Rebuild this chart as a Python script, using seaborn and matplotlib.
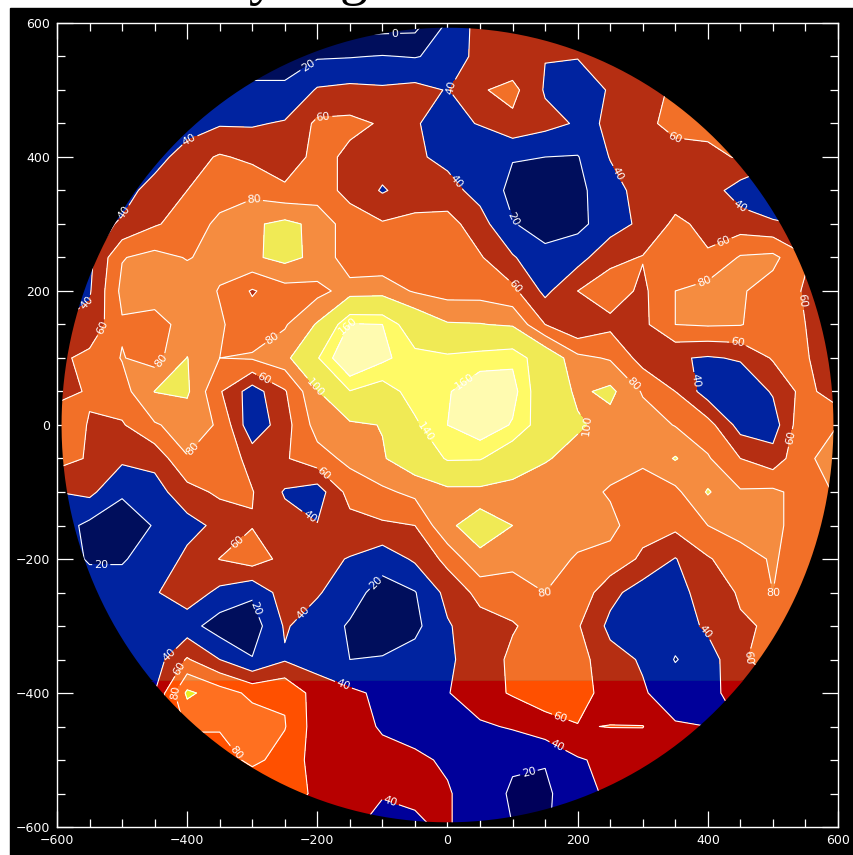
import numpy as np
import seaborn as sns
import matplotlib.pyplot as plt
from matplotlib.path import Path
from matplotlib.patches import PathPatch, Rectangle
from matplotlib.ticker import MultipleLocator

# Data: one row per y, columns follow grid_x
grid_x = list(range(-600, 601, 50))
grid_y = list(range(600, -601, -50))

row_p600 = [10, 10, 10, 10, 10, 10, 10, 10, 10, -10, -10, -8, 22, 48, 50, 50, 50, 50, 50, 50, 50, 50, 50, 50, 50]
row_p550 = [15, 15, 15, 15, 15, 15, 15, 15, 18, 19, 21, 19, 25, 48, 45, 40.5, 41, 46, 50, 50, 50, 50, 50, 50, 50]
row_p500 = [25, 25, 25, 25, 25, 25, 22, 22, 42, 45, 43, 46, 39, 58, 66, 38, 28, 42, 55, 62, 62, 50, 50, 50, 50]
row_p450 = [28, 28, 28, 28, 28, 38, 38, 42, 64, 65, 58, 41, 35, 41, 55, 46, 38, 41, 55, 66, 66, 60, 60, 60, 60]
row_p400 = [30, 30, 30, 30, 52, 62, 56, 45, 68, 55, 50, 43, 35, 25, 21, 20, 19, 41, 58, 52, 55, 62, 50, 50, 50]
row_p350 = [30, 30, 30, 50, 60, 70, 74, 65, 68, 55, 38, 50, 47, 33, 15, 12, 15, 32, 48, 50, 50, 30, 15, 15, 15]
row_p300 = [30, 30, 43, 58, 68, 85, 97, 105, 95, 68, 62, 65, 68, 48, 21, 13, 15, 30, 45, 64, 55, 50, 44, 38, 38]
row_p250 = [30, 35, 79, 86, 79, 85, 97, 106, 95, 68, 68, 68, 72, 62, 42, 25, 32, 55, 61, 62, 62, 82, 85, 62, 60]
row_p200 = [30, 38, 85, 90, 90, 79, 58, 72, 74, 88, 90, 78, 72, 72, 65, 35, 60, 70, 56, 80, 88, 82, 72, 58, 50]
row_p150 = [40, 45, 78, 72, 88, 82, 70, 78, 102, 162, 160, 120, 102, 101, 97, 60, 42, 55, 55, 80, 82, 81, 70, 60, 45]
row_p100 = [55, 66, 81, 72, 100.5, 80, 82, 92, 138, 185, 165, 148, 145, 150, 156, 120, 85, 78, 52, 42, 38, 42, 62, 62, 45]
row_p050 = [50, 63, 72, 100.5, 103, 62, 30, 58, 98, 139, 128, 150, 158, 175, 168, 118, 96, 105, 78, 60, 30, 25, 42, 68, 45]
row_000 = [80, 58, 58, 78, 88, 78, 25, 52, 88, 95, 101, 136, 160, 175, 158, 125, 103, 92, 90, 79, 68, 32, 30, 78, 80]
row_m050 = [68, 58, 44, 46, 79, 76, 52, 58, 72, 85, 98, 115, 143, 142, 120, 102, 92, 88, 85, 101.5, 82, 60, 48, 78, 85]
row_m100 = [40, 45, 22, 32, 52, 64, 61, 38, 30, 68, 76, 85, 92, 92, 88, 87, 87, 78, 68, 75, 102, 82, 84, 72, 82]
row_m150 = [30, 15, 12, 21, 33, 45, 59, 48, 41, 52, 57, 60, 97, 108, 100, 87, 84, 85, 68, 65, 80, 88, 84, 72, 60]
row_m200 = [25, 19, 19, 25, 45, 60.5, 70, 54, 45, 39, 28, 43, 66, 96, 85, 84, 79, 74, 56, 39, 58, 72, 82, 70, 60]
row_m250 = [25, 25, 25, 38, 52, 35, 23, 50, 42, 28, 12, 19, 46, 66, 72, 80, 74, 46, 30, 32, 50, 62, 80, 60, 60]
row_m300 = [30, 30, 30, 40, 28, 10, 10, 42, 30, 18, 12, 15, 38, 52, 58, 70, 62, 35, 25, 28, 44, 58, 62, 60, 60]
row_m350 = [30, 30, 30, 30, 62, 40, 21, 38, 32, 20, 21, 28, 38, 46, 65, 70, 68, 47, 38, 19, 30, 57, 70, 50, 50]
row_m400 = [40, 40, 40, 40, 104, 90, 75, 78, 50, 44, 36, 30, 39, 52, 62, 70, 70, 50, 42, 30, 30, 55, 50, 50, 50]
row_m450 = [60, 60, 60, 60, 82, 82, 92, 81, 50, 48, 38, 32, 28, 37, 42, 52, 59, 60.5, 60.5, 42, 40, 40, 40, 40, 40]
row_m500 = [70, 70, 70, 70, 70, 70, 85, 72, 52, 45, 46, 44, 37, 30, 22, 21, 38, 45, 48, 48, 48, 48, 48, 48, 48]
row_m550 = [60, 60, 60, 60, 60, 60, 60, 65, 58, 44, 42, 42, 42, 28, 18, 17, 30, 45, 45, 45, 45, 45, 45, 45, 45]
row_m600 = [60, 60, 60, 60, 60, 60, 60, 60, 50, 45, 30, 38, 42, 28, 20, 18, 30, 45, 45, 45, 45, 45, 45, 45, 45]

fill_levels = [-50, 20, 40, 60, 80, 100, 140, 160, 300]
line_levels = [0, 20, 40, 60, 80, 100, 140, 160]
upper_colors = ['#000E5C', '#0023A0', '#B52E12', '#F27028', '#F58C40', '#F0EA55', '#FFFA66', '#FFFBB0']
lower_colors = ['#00005A', '#00009A', '#B70000', '#FF5000', '#FF7020', '#E8EE20', '#FFFA40', '#FFFB90']
tick_values = [-600, -400, -200, 0, 200, 400, 600]

# where the contour values get written
label_points = [(-220, 545), (-81, 575), (0, 507), (-191, 463), (-391, 413), (-491, 313), (-297, 339),
                (-551, 179), (-545, 154), (-280, 145), (-147, 145), (-449, 104), (-283, 67), (-204, 55),
                (30, 60), (-42, -15), (227, -7), (282, 57), (15, 364), (250, 369), (96, 306), (107, 209),
                (346, 421), (449, 325), (422, 279), (391, 224), (537, 184), (446, 112), (382, 66),
                (549, -24), (-380, -45), (-196, -79), (-216, -142), (-329, -167), (-532, -191),
                (-114, -231), (-299, -276), (-214, -288), (-437, -333), (-416, -361), (-418, -400),
                (-157, -381), (-310, -478), (151, -269), (396, -309), (478, -264), (460, -346),
                (173, -437), (168, -481), (122, -507), (-87, -560)]

radius = 593
band_y = -382

sns.set_style('ticks')
Z = np.array([row_p600, row_p550, row_p500, row_p450, row_p400, row_p350, row_p300, row_p250, row_p200,
              row_p150, row_p100, row_p050, row_000, row_m050, row_m100, row_m150, row_m200, row_m250,
              row_m300, row_m350, row_m400, row_m450, row_m500, row_m550, row_m600])[::-1]
X = np.array(grid_x)
Y = np.array(grid_y)[::-1]

W, H = 854, 855
fig = plt.figure(figsize=(W / 100, H / 100), dpi=100, facecolor='white')
fig.patches.append(Rectangle((10 / W, 0), 1, (H - 8) / H, transform=fig.transFigure, color='black', zorder=-1))

# bits of the title that stick out under the crop
fig.text(248 / W, 1 + 6 / H, 'y', fontsize=40, color='black', family='Liberation Serif', va='baseline', ha='left')
fig.text(340 / W, 1 + 6 / H, 'g', fontsize=40, color='black', family='Liberation Serif', va='baseline', ha='left')

ax = fig.add_axes([57 / W, (H - 827) / H, 781 / W, 804 / H], facecolor='black')

theta = np.linspace(0, 2 * np.pi, 720)
cx = radius * np.cos(theta)
cy = radius * np.sin(theta)
disc = PathPatch(Path(np.column_stack([cx, cy])), transform=ax.transData)
top_part = PathPatch(Path(np.column_stack([cx, np.maximum(cy, band_y)])), transform=ax.transData)
low_part = PathPatch(Path(np.column_stack([cx, np.minimum(cy, band_y)])), transform=ax.transData)

upper = ax.contourf(X, Y, Z, levels=fill_levels, colors=sns.color_palette(upper_colors))
upper.set_clip_path(top_part)
lower = ax.contourf(X, Y, Z, levels=fill_levels, colors=sns.color_palette(lower_colors))
lower.set_clip_path(low_part)

lines = ax.contour(X, Y, Z, levels=line_levels, colors='white', linewidths=0.8)
ax.clabel(lines, manual=label_points, fmt='%d', fontsize=8, colors='white', inline=True, inline_spacing=2)
lines.set_clip_path(disc)

ax.set_xlim(-600, 600)
ax.set_ylim(-600, 600)
ax.set_xticks(tick_values)
ax.set_yticks(tick_values)
ax.xaxis.set_minor_locator(MultipleLocator(50))
ax.yaxis.set_minor_locator(MultipleLocator(50))
ax.tick_params(which='major', direction='in', length=11.5, width=0.9, color='white', labelcolor='white',
               top=True, right=True, labelsize=9, pad=5)
ax.tick_params(which='minor', direction='in', length=6, width=0.9, color='white', top=True, right=True)
for side in ax.spines.values():
    side.set_color('white')
    side.set_linewidth(1)

fig.savefig('out.png', dpi=100, facecolor='white')
